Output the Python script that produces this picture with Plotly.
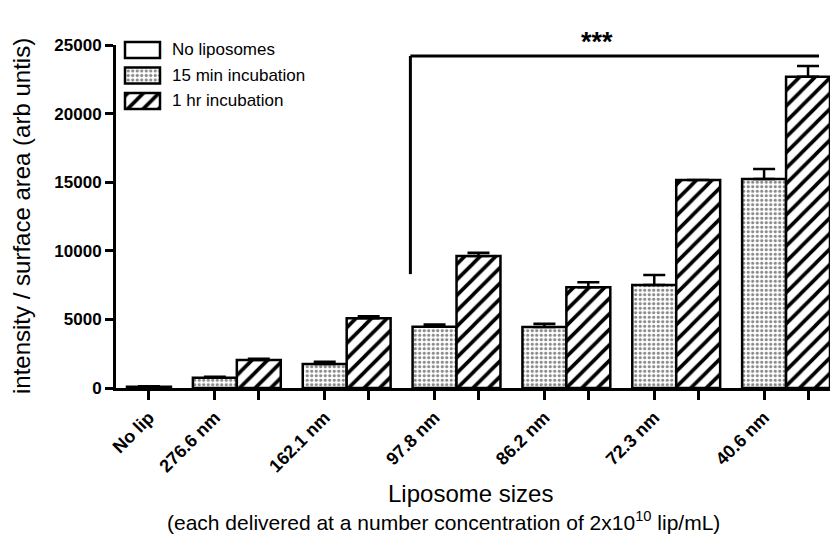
import plotly.graph_objects as go

# ---------------- data ----------------
categories = ["No lip", "276.6 nm", "162.1 nm", "97.8 nm", "86.2 nm", "72.3 nm", "40.6 nm"]
series_names = ["No liposomes", "15 min incubation", "1 hr incubation"]
no_lip = [100]
no_lip_err = [20]
min15 = [750, 1750, 4470, 4450, 7510, 15230]
min15_err = [70, 170, 150, 230, 730, 730]
hr1 = [2040, 5080, 9620, 7340, 15160, 22690]
hr1_err = [90, 150, 240, 360, 0, 780]
y_ticks = [0, 5000, 10000, 15000, 20000, 25000]
y_tick_text = ["0", "5000", "10000", "15000", "20000", "25000"]
sig_label = "***"
bracket_top = 24200
bracket_bottom = 8300
star_x = 10.2

# ---------------- positions (bar-width units) ----------------
pos_nolip = [0.0]
pos15 = [1.5 + 2.5 * j for j in range(len(min15))]
pos1h = [p + 1.0 for p in pos15]

LINE = "black"
FONT = "Liberation Sans, Arial, sans-serif"

style_none = dict(color="white", line=dict(color=LINE, width=2.5))
style_15 = dict(color="white", line=dict(color=LINE, width=2.5),
                pattern=dict(shape=".", size=4.5, solidity=0.4, fgcolor="#111111", bgcolor="white"))
style_1h = dict(color="white", line=dict(color=LINE, width=2.5),
                pattern=dict(shape="/", size=11, solidity=0.33, fgcolor="black",
                             fgopacity=1, bgcolor="white"))

def err(arr):
    return dict(type="data", array=arr, arrayminus=[0] * len(arr), symmetric=False,
                color=LINE, thickness=2.5, width=11)

fig = go.Figure()
fig.add_bar(x=pos_nolip, y=no_lip, width=1, marker=style_none, error_y=err(no_lip_err),
            name=series_names[0], showlegend=False)
fig.add_bar(x=pos15, y=min15, width=1, marker=style_15, error_y=err(min15_err),
            name=series_names[1], showlegend=False)
fig.add_bar(x=pos1h, y=hr1, width=1, marker=style_1h, error_y=err(hr1_err),
            name=series_names[2], showlegend=False)

# legend swatches on an auxiliary subplot
for k, st in enumerate([style_none, style_15, style_1h]):
    fig.add_bar(x=[1], y=[k], base=0, orientation="h", width=0.63, marker=st,
                xaxis="x2", yaxis="y2", showlegend=False, hoverinfo="skip")

W, H = 830, 534
ML, MR, MT, MB = 116, 0, 30, 146
plot_w = W - ML - MR
plot_h = H - MT - MB

def px_x(px):
    return (px - ML) / plot_w

def px_y(py):
    return (H - MB - py) / plot_h

label_pos = pos_nolip + pos15

fig.update_layout(
    width=W, height=H,
    margin=dict(l=ML, r=MR, t=MT, b=MB),
    plot_bgcolor="white", paper_bgcolor="white",
    barmode="overlay",
    font=dict(family=FONT, color="black"),
    xaxis=dict(
        range=[-0.75, 15.5], showgrid=False, zeroline=False,
        showline=True, linecolor=LINE, linewidth=3,
        tickmode="array", tickvals=label_pos, ticktext=categories,
        tickangle=-45, ticks="outside", ticklen=9, tickwidth=3, tickcolor=LINE,
        tickfont=dict(size=18, family=FONT, weight="bold"),
        minor=dict(tickmode="array", tickvals=pos1h, ticks="outside", ticklen=9,
                   tickwidth=3, tickcolor=LINE, showgrid=False),
    ),
    yaxis=dict(
        domain=[0, px_y(45)], range=[0, 25000], showgrid=False, zeroline=False,
        showline=True, linecolor=LINE, linewidth=3,
        tickmode="array", tickvals=y_ticks, ticktext=y_tick_text,
        ticks="outside", ticklen=8, tickwidth=3, tickcolor=LINE,
        tickfont=dict(size=17, family=FONT, weight="bold"),
    ),
    xaxis2=dict(domain=[px_x(121.5), px_x(163.5)], range=[-0.1, 1.1], visible=False,
                anchor="y2", fixedrange=True),
    yaxis2=dict(domain=[px_y(113.75), px_y(37.25)], range=[2.5, -0.5], visible=False,
                anchor="x2", fixedrange=True),
)

# significance bracket
x_left = pos15[2] - 0.55
x_right = pos1h[-1] + 0.25
fig.add_shape(type="line", xref="x", yref="y", x0=x_left, x1=x_right,
              y0=bracket_top, y1=bracket_top, line=dict(color=LINE, width=3))
fig.add_shape(type="line", xref="x", yref="y", x0=x_left, x1=x_left,
              y0=bracket_bottom, y1=bracket_top, line=dict(color=LINE, width=3))
fig.add_annotation(x=star_x, y=bracket_top, xref="x", yref="y", text="<b>" + sig_label + "</b>",
                   showarrow=False, yanchor="bottom", yshift=-3,
                   font=dict(size=27, family=FONT))

# legend text
for k, name in enumerate(series_names):
    fig.add_annotation(x=px_x(170), y=k, xref="paper", yref="y2", text=name,
                       showarrow=False, xanchor="left", yanchor="middle",
                       font=dict(size=17, family=FONT))

# axis titles
fig.add_annotation(x=px_x(22), y=px_y(216), xref="paper", yref="paper",
                   text="intensity / surface area (arb untis)", textangle=-90,
                   showarrow=False, xanchor="center", yanchor="middle",
                   font=dict(size=24, family=FONT))
fig.add_annotation(x=px_x(470), y=px_y(493), xref="paper", yref="paper",
                   text="Liposome sizes", showarrow=False,
                   xanchor="center", yanchor="middle",
                   font=dict(size=24, family=FONT))
fig.add_annotation(x=px_x(443), y=px_y(521), xref="paper", yref="paper",
                   text="(each delivered at a number concentration of 2x10<sup>10</sup> lip/mL)",
                   showarrow=False, xanchor="center", yanchor="middle",
                   font=dict(size=21, family=FONT))

fig.write_html("out.html")
